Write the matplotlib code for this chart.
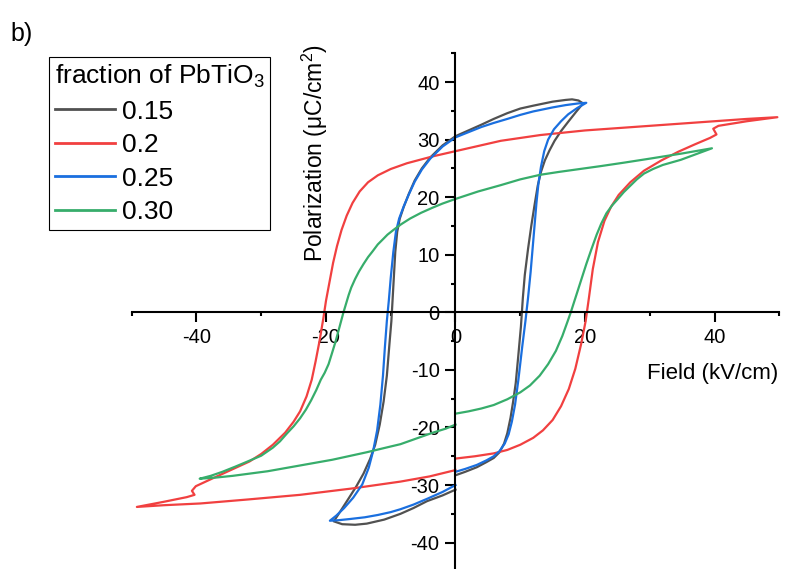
import matplotlib
matplotlib.use("Agg")
import matplotlib.pyplot as plt
from matplotlib.ticker import FixedLocator

plt.rcParams['font.family'] = ['Liberation Sans', 'DejaVu Sans']
plt.rcParams['mathtext.fontset'] = 'custom'
plt.rcParams['mathtext.rm'] = 'Liberation Sans'
plt.rcParams['mathtext.it'] = 'Liberation Sans:italic'
plt.rcParams['axes.unicode_minus'] = False

# P-E hysteresis loops: field (kV/cm) and polarization (uC/cm^2),
# each path runs 0 -> +Emax -> -Emax -> 0
labels = ["0.15", "0.2", "0.25", "0.30"]
colors = ["#515151", "#F14040", "#1A6FDF", "#37AD6B"]

E_015 = [0, 1.5, 3.3, 4.8, 5.9, 6.8, 7.5, 8.0, 8.5, 8.9, 9.3, 9.7, 10.1, 10.4, 10.7, 11.2, 11.7, 12.2,
         12.7, 13.2, 13.8, 14.5, 15.3, 16.3, 17.4, 18.6, 19.7,
         19.0, 18.0, 17.0, 15.0, 12.0, 10.0, 8.0, 5.9, 4.0, 2.0, 0.0, -2.0, -3.9, -5.2, -6.3, -7.2, -8.0,
         -8.6, -9.0, -9.3, -9.5, -9.7, -9.9, -10.2, -10.6, -11.1, -11.7, -12.4, -13.2, -14.2, -15.3,
         -16.6, -17.8, -18.5, -18.8,
         -17.5, -15.5, -13.7, -11.0, -8.5, -6.5, -4.4, -2.0, 0.0]
P_015 = [-28.3, -27.7, -26.9, -26.0, -25.3, -24.3, -22.8, -21.0, -18.3, -15.5, -12.3, -7.5, -2.5, 2.5,
         6.5, 11.0, 15.0, 18.6, 22.0, 24.4, 26.4, 28.1, 29.8, 31.5, 33.1, 34.8, 36.3,
         36.8, 37.0, 36.9, 36.6, 35.9, 35.4, 34.6, 33.6, 32.6, 31.6, 30.6, 29.0, 26.9, 25.0, 22.9, 20.6,
         18.3, 16.3, 14.0, 10.5, 6.5, 2.5, -1.5, -5.5, -11.0, -15.5, -19.5, -23.0, -25.5, -28.0, -30.2,
         -32.5, -34.6, -35.8, -36.3,
         -36.8, -36.9, -36.7, -36.0, -35.0, -34.0, -32.8, -31.8, -30.8]

E_020 = [0, 3.0, 5.9, 8.0, 10.0, 12.0, 13.5, 15.0, 16.3, 17.5, 18.5, 19.4, 20.1, 20.6, 21.2, 22.0,
         23.0, 24.0, 25.2, 27.0, 29.1, 31.8, 34.4, 37.0, 39.3, 40.3, 39.8, 40.6, 45.0, 49.7,
         45.0, 40.0, 30.0, 20.0, 13.1, 7.0, 0.0, -3.5, -7.5, -10.0, -12.0, -13.5, -14.8, -15.9, -16.8,
         -17.6, -18.3, -18.9, -19.5, -20.0, -20.4, -21.0, -21.6, -22.2, -23.0, -24.0, -25.0, -26.3,
         -28.2, -30.0, -31.8, -35.3, -38.0, -40.1, -40.7, -40.3, -41.5, -45.0, -49.2,
         -45.0, -39.4, -32.0, -24.0, -16.0, -8.5, -4.0, 0.0]
P_020 = [-25.4, -25.0, -24.5, -23.9, -23.0, -21.8, -20.5, -18.7, -16.3, -13.3, -9.8, -5.5, -1.5, 2.5,
         7.5, 12.2, 15.9, 18.3, 20.4, 22.6, 24.6, 26.4, 27.9, 29.2, 30.3, 30.9, 31.9, 32.4, 33.2, 33.9,
         33.6, 33.2, 32.4, 31.6, 30.8, 29.8, 28.0, 27.1, 25.9, 24.9, 23.8, 22.6, 21.0, 19.0, 16.8,
         14.3, 11.5, 8.6, 5.0, 2.0, -1.0, -5.0, -8.5, -11.7, -14.6, -17.2, -19.0, -20.9,
         -23.0, -24.6, -25.9, -27.7, -29.1, -30.2, -31.0, -31.7, -32.1, -32.9, -33.8,
         -33.5, -33.2, -32.5, -31.7, -30.6, -29.4, -28.5, -27.4]

E_025 = [0, 1.5, 3.3, 4.8, 5.9, 6.8, 7.6, 8.2, 8.7, 9.2, 9.7, 10.3, 10.8, 11.2, 11.6, 11.9, 12.2, 12.5,
         12.8, 13.2, 13.7, 14.3, 15.2, 16.3, 17.4, 18.8, 20.2,
         19.0, 17.0, 15.0, 12.0, 10.0, 8.0, 5.9, 4.0, 2.0, 0.0, -2.0, -3.9, -5.2, -6.3, -7.2, -8.0, -8.7,
         -9.2, -9.6, -10.0, -10.3, -10.6, -10.9, -11.2, -11.6, -12.1, -12.7, -13.4, -14.4, -15.8, -17.2,
         -18.4, -19.4,
         -18.0, -16.3, -14.0, -12.0, -10.0, -8.5, -6.5, -4.4, -2.0, 0.0]
P_025 = [-27.7, -27.2, -26.5, -25.7, -25.0, -24.1, -22.8, -21.2, -19.0, -16.0, -11.8, -6.0, -1.5, 2.5,
         7.0, 11.0, 15.0, 19.0, 22.3, 25.3, 28.0, 30.0, 31.8, 33.2, 34.4, 35.5, 36.4,
         36.3, 36.0, 35.6, 34.9, 34.3, 33.6, 32.9, 32.2, 31.3, 30.4, 28.8, 26.7, 24.8, 22.7, 20.5, 18.4,
         16.3, 14.0, 10.5, 6.0, 2.0, -1.5, -6.0, -11.0, -16.0, -20.5, -24.0, -27.0, -29.9, -32.2, -34.0,
         -35.3, -36.2,
         -36.1, -35.9, -35.6, -35.2, -34.7, -34.2, -33.4, -32.4, -31.2, -30.0]

E_030 = [0, 2.0, 4.0, 5.9, 8.0, 10.0, 11.5, 13.0, 14.3, 15.5, 16.5, 17.3, 17.8, 18.6, 19.4, 20.2, 21.0,
         21.8, 22.5, 23.3, 24.2, 25.0, 26.0, 27.0, 28.0, 29.1, 30.5, 32.0, 34.8, 37.2, 39.6,
         35.0, 30.0, 26.0, 22.4, 19.2, 16.0, 13.1, 10.0, 7.0, 3.5, 0.0, -2.0, -3.5, -5.3, -7.0, -8.4,
         -9.6, -10.5, -11.2, -12.0, -12.8, -13.5, -14.2, -14.9, -15.5, -16.1, -16.5, -16.9, -17.3, -17.9,
         -18.5, -19.1, -19.6, -20.2, -20.8, -21.5, -22.3, -23.1, -24.0, -25.0, -26.0, -27.1, -28.2,
         -30.0, -32.3, -34.0, -36.0, -37.8, -39.5,
         -37.0, -34.4, -29.0, -24.0, -19.0, -13.7, -10.0, -8.5, -7.0, -5.0, -3.5, -1.5, 0.0]
P_030 = [-17.6, -17.2, -16.7, -16.1, -15.1, -13.9, -12.7, -11.0, -9.0, -6.7, -4.1, -1.6, 0.0, 2.8, 5.6,
         8.4, 11.0, 13.5, 15.4, 17.2, 18.6, 19.6, 20.9, 22.0, 23.1, 24.1, 24.9, 25.6, 26.5, 27.5, 28.5,
         27.6, 26.7, 26.0, 25.4, 24.9, 24.4, 23.9, 23.1, 22.1, 21.0, 19.7, 18.9, 18.2, 17.3, 16.3, 15.3,
         14.3, 13.5, 12.7, 11.8, 10.6, 9.6, 8.4, 7.1, 5.8, 4.3, 3.0, 1.5, 0.0, -2.5,
         -5.0, -7.2, -9.0, -10.5, -11.7, -13.5, -15.3, -16.9, -18.4, -19.8, -21.0, -22.4, -23.5,
         -24.9, -26.0, -26.8, -27.7, -28.4, -28.9,
         -28.7, -28.4, -27.6, -26.6, -25.6, -24.3, -23.3, -22.9, -22.3, -21.5, -20.9, -20.2, -19.5]

fields = [E_015, E_020, E_025, E_030]
pols = [P_015, P_020, P_025, P_030]

x_major = [-40, -20, 0, 20, 40]
x_minor = [-50, -30, -10, 10, 30, 50]
y_major = [-40, -30, -20, -10, 0, 10, 20, 30, 40]
y_minor = [-45, -35, -25, -15, -5, 5, 15, 25, 35, 45]

W, H = 809, 569
fig = plt.figure(figsize=(W / 100, H / 100), dpi=100)
ax = fig.add_axes([131.7 / W, (H - 571.4) / H, 647.6 / W, (571.4 - 53.3) / H])

for E, P, lab, col in zip(fields, pols, labels, colors):
    ax.plot(E, P, color=col, lw=1.6, label=lab, solid_joinstyle='round')

ax.set_xlim(-50, 50)
ax.set_ylim(-45, 45)

for side in ('top', 'right'):
    ax.spines[side].set_visible(False)
ax.spines['left'].set_position(('data', 0))
ax.spines['bottom'].set_position(('data', 0))
for side in ('left', 'bottom'):
    ax.spines[side].set_linewidth(1.5)

ax.xaxis.set_major_locator(FixedLocator(x_major))
ax.xaxis.set_minor_locator(FixedLocator(x_minor))
ax.yaxis.set_major_locator(FixedLocator(y_major))
ax.yaxis.set_minor_locator(FixedLocator(y_minor))
ax.set_xticklabels([str(v) for v in x_major])
ax.set_yticklabels([str(v) for v in y_major])
ax.tick_params(which='major', direction='out', length=7, width=1.5, labelsize=14.5, pad=4.5)
ax.tick_params(which='minor', direction='out', length=3, width=1.5)

fig.text(778 / W, 1 - 373 / H, 'Field (kV/cm)', ha='right', va='center', fontsize=16)
fig.text(315 / W, 1 - 262 / H, 'Polarization (μC/cm$^2$)', rotation=90,
         ha='center', va='bottom', fontsize=16.5)
fig.text(10 / W, 1 - 41 / H, 'b)', ha='left', va='baseline', fontsize=18)

leg = ax.legend(title='fraction of PbTiO$_3$', loc='upper left',
                bbox_to_anchor=(49 / W, 1 - 57 / H), bbox_transform=fig.transFigure,
                borderaxespad=0, fontsize=19, title_fontsize=19, frameon=True,
                fancybox=False, shadow=False, handlelength=2.27, handletextpad=0.29,
                borderpad=0.22, labelspacing=0.36)
leg._legend_box.align = 'left'
frame = leg.get_frame()
frame.set_edgecolor('black')
frame.set_linewidth(0.8)
frame.set_alpha(1)
for line in leg.get_lines():
    line.set_linewidth(2.0)

fig.savefig('out.png', dpi=100)
